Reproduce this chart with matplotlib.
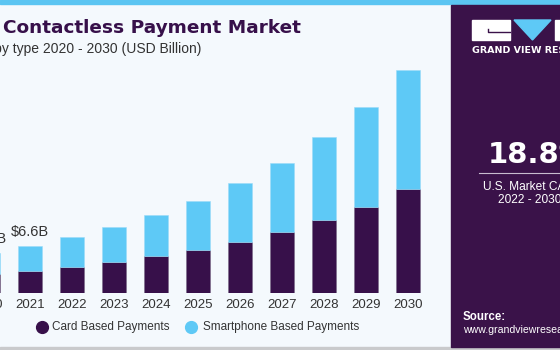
import numpy as np
import matplotlib
matplotlib.use("Agg")
import matplotlib.pyplot as plt
from matplotlib.patches import Rectangle, Polygon

years = [2020, 2021, 2022, 2023, 2024, 2025, 2026, 2027, 2028, 2029, 2030]
card = [2.70, 3.13, 3.69, 4.38, 5.13, 6.05, 7.16, 8.54, 10.17, 11.97, 14.42]
smartphone = [2.90, 3.47, 4.12, 4.77, 5.73, 6.75, 8.10, 9.57, 11.51, 13.87, 16.59]
value_labels = {2020: "$5.6B", 2021: "$6.6B"}

title = "U.S. Contactless Payment Market"
subtitle = "size, by type 2020 - 2030 (USD Billion)"
legend_names = ["Card Based Payments", "Smartphone Based Payments"]

PURPLE = "#37104a"
BLUE = "#5ec9f6"
BG = "#f4f9fd"
TXT = "#333333"

W, H = 560, 350
plt.rcParams['font.family'] = ['Liberation Sans', 'DejaVu Sans']

fig = plt.figure(figsize=(W / 100, H / 100), dpi=100)
fig.patch.set_facecolor(BG)


def fx(px):
    return px / W


def fy(py):
    return 1 - py / H


# chart axes (left part hangs off the canvas, like the cropped original)
ax_left, ax_right = -40, 440
base, top = 293.3, 53.3
ax = fig.add_axes([fx(ax_left), fy(base), (ax_right - ax_left) / W, (base - top) / H])
ax.set_facecolor("none")
step = 42.0
ax.set_xlim((ax_left + 12) / step, (ax_right + 12) / step)
ax.set_ylim(0, (base - top) / 7.21)

x = np.arange(len(years))
bw = 24 / step
ax.bar(x, card, bw, color=PURPLE, edgecolor="#7a6a88", linewidth=0.4)
ax.bar(x, smartphone, bw, bottom=card, color=BLUE, edgecolor="#9ddcf8", linewidth=0.4)

for i, yr in enumerate(years):
    if yr in value_labels:
        ax.annotate(value_labels[yr], (i, card[i] + smartphone[i]), xytext=(0, 5),
                    textcoords="offset points", ha="center", va="bottom",
                    fontsize=10.5, color=TXT)

ax.set_xticks(x)
ax.set_xticklabels([str(y) for y in years], fontsize=9.5, color=TXT)
ax.tick_params(axis="x", length=0, pad=4)
ax.set_yticks([])
for s in ax.spines.values():
    s.set_visible(False)

# legend
fig.lines.append(plt.Line2D([fx(42)], [fy(327)], marker="o", markersize=8.5, color=PURPLE,
                            linestyle="none", transform=fig.transFigure))
fig.text(fx(52), fy(327), legend_names[0], fontsize=8.5, color=TXT, va="center")
fig.lines.append(plt.Line2D([fx(191)], [fy(327)], marker="o", markersize=8.5, color=BLUE,
                            linestyle="none", transform=fig.transFigure))
fig.text(fx(203), fy(327), legend_names[1], fontsize=8.5, color=TXT, va="center")

# titles
fig.text(fx(301), fy(28), title, fontsize=13.3, fontweight="bold", color=PURPLE,
         ha="right", va="center", family="DejaVu Sans")
fig.text(fx(201), fy(49), subtitle, fontsize=10, color=TXT, ha="right", va="center")

# top strip and bottom line
fig.patches.append(Rectangle((0, fy(4)), 1, fy(0) - fy(4), transform=fig.transFigure,
                             color="#5bc5f2", zorder=0))
fig.patches.append(Rectangle((0, 0), 1, 3 / H, transform=fig.transFigure,
                             color="#c9cacc", zorder=0))

# right panel
px0, py0, py1 = 451, 5, 347
fig.patches.append(Rectangle((fx(px0), fy(py1)), 1, fy(py0) - fy(py1),
                             transform=fig.transFigure, color="#3a1249", zorder=0))
gax = fig.add_axes([fx(px0), fy(py1), 1 - fx(px0), (py1 - 283) / H])
grad = np.linspace(0, 1, 100)[:, None]
c0 = np.array([0x3a, 0x12, 0x49]) / 255
c1 = np.array([0x5c, 0xbe, 0xee]) / 255
img = c0[None, None, :] * (1 - grad[..., None]) + c1[None, None, :] * grad[..., None]
gax.imshow(np.repeat(img, 2, axis=1), aspect="auto", extent=(0, 1, 1, 0))
t = np.linspace(0, 1, 60)
for k in range(14):
    yy = 0.15 + k * 0.065 + 0.06 * np.sin(6 * t + k * 0.4) * (1 - k / 20)
    gax.plot(t, yy, color="white", alpha=0.18, lw=0.5)
for k in range(20):
    xx = k * 0.06 + 0.04 * np.sin(5 * t + k)
    gax.plot(xx, t * 0.85 + 0.15, color="white", alpha=0.15, lw=0.5)
gax.set_xlim(0, 1)
gax.set_ylim(1, 0)
gax.axis("off")

# logo
fig.patches.append(Rectangle((fx(472), fy(40)), 38 / W, 20 / H, transform=fig.transFigure,
                             color="white"))
fig.lines.append(plt.Line2D([fx(488), fx(488), fx(510)], [fy(29), fy(32), fy(32)],
                            color="#3a1249", lw=1, transform=fig.transFigure))
fig.patches.append(Polygon([(fx(514), fy(20)), (fx(551), fy(20)), (fx(532.5), fy(40))],
                           closed=True, transform=fig.transFigure, color=BLUE))
fig.patches.append(Rectangle((fx(555), fy(40)), 10 / W, 20 / H, transform=fig.transFigure,
                             color="white"))
fig.text(fx(472), fy(50.5), "GRAND VIEW RESEARCH", fontsize=6.8, fontweight="bold",
         color="white", va="center", family="DejaVu Sans")

# CAGR block
fig.text(fx(488), fy(155), "18.8%", fontsize=21, fontweight="bold", color="white",
         va="center", family="DejaVu Sans")
fig.lines.append(plt.Line2D([fx(479), 1], [fy(172.5), fy(172.5)], color="#c8bccf",
                            lw=0.8, transform=fig.transFigure))
fig.text(fx(483), fy(186), "U.S. Market CAGR,", fontsize=8.6, color="white", va="center")
fig.text(fx(498), fy(200), "2022 - 2030", fontsize=8.6, color="white", va="center")

# source
fig.text(fx(463), fy(317), "Source:", fontsize=8.3, fontweight="bold", color="white",
         va="center")
fig.text(fx(463), fy(330), "www.grandviewresearch.com", fontsize=7.6, color="white",
         va="center")

fig.savefig("out.png", dpi=100, facecolor=BG)
